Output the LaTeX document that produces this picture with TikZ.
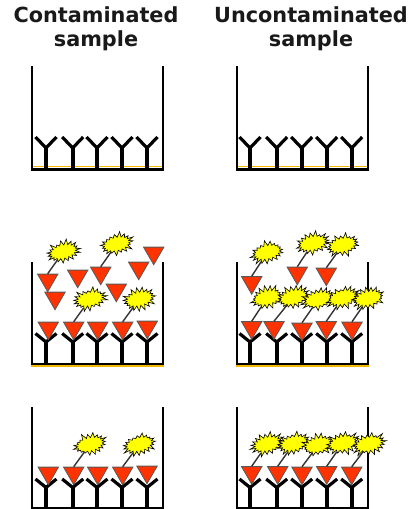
\documentclass[tikz,border=0pt]{standalone}
\usepackage{fontspec}
\setmainfont{DejaVu Sans}
\usetikzlibrary{shapes.geometric,shapes.symbols}
\definecolor{antired}{HTML}{FF3300}
\definecolor{burstyellow}{HTML}{FFFF00}
\definecolor{coatgold}{HTML}{F5B800}

\begin{document}
\begin{tikzpicture}[x=1pt,y=-1pt,
       title/.style={font=\bfseries\fontsize{20.8}{24.5}\selectfont,align=center,inner sep=0pt,text=black!90},
       well/.style={draw=black,line width=2.4pt,miter limit=10},
       coat/.style={draw=coatgold,line width=1.6pt},
       abody/.style={draw=black,line width=3.2pt},
       antigen/.style={regular polygon,regular polygon sides=3,shape border rotate=180,minimum size=23.5pt,inner sep=0pt,fill=antired,draw=black!65,line width=0.8pt},
       burst/.style={starburst,starburst points=19,starburst point height=6pt,minimum width=37pt,minimum height=25pt,inner sep=0pt,rotate=14,fill=burstyellow,draw=black,line width=0.6pt},
       stem/.style={draw=black!80,line width=1.4pt}]
      \useasboundingbox (0,0) rectangle (412,509);
      \node[title] (lcont) at (96,29) {Contaminated\\sample};
      \node[title] (lunc) at (311,29) {Uncontaminated\\sample};
      % gold coating of the first two rows
      \draw[coat] (33,166.5) -- (162,166.5);
      \draw[coat] (238,166.5) -- (367,166.5);
      \draw[coat] (31,366) -- (164,366);
      \draw[coat] (236,366) -- (369,366);
      % wells
      \foreach \top/\bot in {66/169.3,262/364,407/508}{
        \draw[well] (32,\top) |- (163,\bot) -- (163,\top);
        \draw[well] (236.7,\top) |- (368,\bot) -- (368,\top);
      }
      % capture antibodies
      \foreach \arm/\fork/\base in {137/148/168,333.5/342/364,479/487.5/508}{
        \foreach \x in {46,72.7,97,122,147,250,276.7,301.7,326.7,351.7}{
          \draw[abody] (\x-10.5,\arm) -- (\x,\fork) -- (\x+10.5,\arm);
          \draw[abody,line width=4pt] (\x,\fork) -- (\x,\base);
        }
      }
      % antigens with nothing attached
      \foreach \x/\y [count=\i] in {77.7/276,55/298,138.7/268,153.7/253,116.3/290,
          48.3/328,97.7/328,147.3/327,
          48.3/473,97.7/473,147/472}{
        \node[antigen] (free\i) at (\x,\y) {};
      }
      % antigen, linker and label: x/y of the triangle, x/y of the burst
      \foreach \tx/\ty/\sx/\sy [count=\i] in {47.7/280/63.3/251.7,100.7/273/116.7/244,
          73.7/328/90/299,122.7/328/139.3/299,
          73.7/473/90/444.3,122.7/473/139.3/444.3,
          251.7/282.5/267.3/252.3,297.3/273/312.7/243.3,326.3/274/342.7/245,
          251.7/327.5/267.3/297.7,274/327.5/293.3/297.3,302/329/318.3/299.3,326.3/327.5/342.7/297.7,352/328/368.3/298.3,
          251.7/472.5/267.3/444,277.7/472.5/294/443.3,302/473/318.3/445,326.7/472.5/342.7/443.3,351.7/473/369/444}{
        \node[antigen] (tag\i) at (\tx,\ty) {};
        \node[burst,random starburst=\i] (lab\i) at (\sx,\sy) {};
        \draw[stem] (tag\i.north) -- (lab\i);
      }
    \end{tikzpicture}
\end{document}
